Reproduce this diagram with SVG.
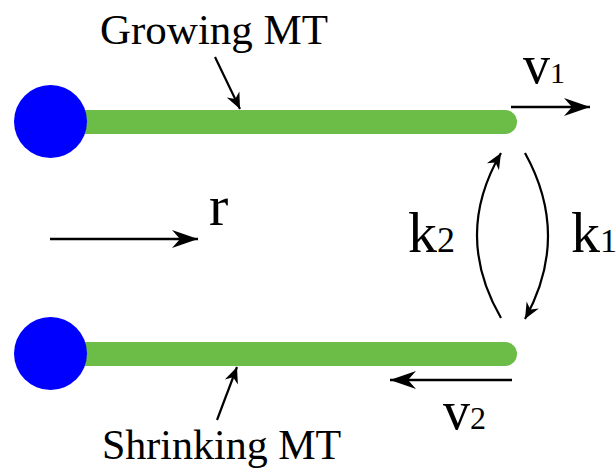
<svg xmlns="http://www.w3.org/2000/svg" width="616" height="472" viewBox="0 0 616 472">
<style>
.lbl text{font-family:"Liberation Serif","DejaVu Serif",serif;fill:#000}
.bar{stroke:#6cbd47;stroke-width:24;stroke-linecap:round;fill:none}
.ball{fill:#0000ff}
.big{stroke:#000;stroke-width:2.6;fill:none}
.thin{stroke:#000;stroke-width:2.2;fill:none}
</style>
<defs>
<marker id="hb" markerUnits="userSpaceOnUse" markerWidth="30" markerHeight="22" viewBox="-28 -11 30 22" refX="0" refY="0" orient="auto">
<path d="M0,0 L-26,-9 L-18,0 L-26,9 Z" fill="#000"/>
</marker>
<marker id="hs" markerUnits="userSpaceOnUse" markerWidth="20" markerHeight="16" viewBox="-18 -8 20 16" refX="0" refY="0" orient="auto">
<path d="M0,0 L-16,-7 L-11,0 L-16,7 Z" fill="#000"/>
</marker>
</defs>
<g id="growing-mt">
<path class="bar" d="M60,122 H505"/>
<circle class="ball" cx="50.5" cy="121.5" r="36.5"/>
</g>
<g id="shrinking-mt">
<path class="bar" d="M60,354 H505"/>
<circle class="ball" cx="50.5" cy="353.5" r="36.5"/>
</g>
<g id="connectors">
<path class="thin" d="M215,57 L240,109" marker-end="url(#hs)"/>
<path class="thin" d="M217,420 L237,367" marker-end="url(#hs)"/>
<path class="big" d="M511,107 H590" marker-end="url(#hb)"/>
<path class="big" d="M512,380 H390" marker-end="url(#hb)"/>
<path class="big" d="M50,239 H198" marker-end="url(#hb)"/>
<path class="thin" d="M501,318 Q453,235 501,153" marker-end="url(#hs)"/>
<path class="thin" d="M525,153 Q571,236 525,319" marker-end="url(#hs)"/>
</g>
<g id="labels" class="lbl">
<text x="100" y="44" font-size="43">Growing MT</text>
<text x="102" y="459" font-size="42">Shrinking MT</text>
<text x="523" y="83" font-size="54">v<tspan font-size="30">1</tspan></text>
<text x="443" y="429" font-size="54">v<tspan font-size="32">2</tspan></text>
<text x="408" y="252" font-size="58">k<tspan font-size="36">2</tspan></text>
<text x="571" y="252" font-size="58">k<tspan font-size="34">1</tspan></text>
<text x="209" y="225" font-size="58">r</text>
</g>
</svg>
